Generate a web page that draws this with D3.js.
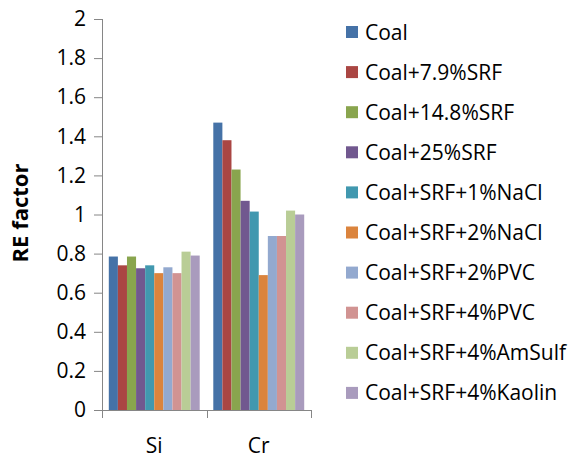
<!DOCTYPE html>
<html>
<head>
<meta charset="utf-8">
<script src="https://cdn.jsdelivr.net/npm/d3@7"></script>
<style>
  body { margin: 0; background: #fff; }
  svg { display: block; font-family: "Open Sans", sans-serif; }
</style>
</head>
<body>
<div id="chart"></div>
<script>
// data
const CATEGORIES = ["Si", "Cr"];
const SERIES = ["Coal", "Coal+7.9%SRF", "Coal+14.8%SRF", "Coal+25%SRF",
  "Coal+SRF+1%NaCl", "Coal+SRF+2%NaCl", "Coal+SRF+2%PVC", "Coal+SRF+4%PVC",
  "Coal+SRF+4%AmSulf", "Coal+SRF+4%Kaolin"];
const SI_VALUES = [0.785, 0.74, 0.785, 0.725, 0.74, 0.70, 0.73, 0.70, 0.81, 0.79];
const CR_VALUES = [1.47, 1.38, 1.23, 1.07, 1.015, 0.69, 0.89, 0.89, 1.02, 1.0];
const Y_TICKS = [0, 0.2, 0.4, 0.6, 0.8, 1, 1.2, 1.4, 1.6, 1.8, 2];
const COLORS = ["#4572A7", "#AA4643", "#89A54E", "#71588F", "#4198AF",
  "#DB843D", "#93A9CF", "#D19392", "#B9CD96", "#A99BBD"];

const WIDTH = 570, HEIGHT = 463;
const PLOT = {left: 102, right: 311, top: 19, bottom: 410};

const values = {Si: SI_VALUES, Cr: CR_VALUES};

const svg = d3.select("#chart").append("svg")
  .attr("width", WIDTH)
  .attr("height", HEIGHT);

const X_SCALE = d3.scaleBand()
  .domain(CATEGORIES)
  .range([PLOT.left, PLOT.right])
  .paddingInner(0.13)
  .paddingOuter(0.065);

const X_INNER = d3.scaleBand()
  .domain(SERIES)
  .range([0, X_SCALE.bandwidth()])
  .padding(0);

const Y_SCALE = d3.scaleLinear()
  .domain([0, 2])
  .range([PLOT.bottom, PLOT.top]);

// bars
CATEGORIES.forEach((cat) => {
  svg.append("g")
    .attr("transform", "translate(" + X_SCALE(cat) + ",0)")
    .selectAll("rect")
    .data(values[cat])
    .enter()
    .append("rect")
      .attr("x", (d, i) => X_INNER(SERIES[i]))
      .attr("y", (d) => Y_SCALE(d))
      .attr("width", X_INNER.bandwidth())
      .attr("height", (d) => PLOT.bottom - Y_SCALE(d))
      .attr("fill", (d, i) => COLORS[i]);
});

// y axis
const yAxis = svg.append("g")
  .attr("transform", "translate(" + PLOT.left + ",0)")
  .call(d3.axisLeft(Y_SCALE).tickValues(Y_TICKS).tickSize(8).tickPadding(8)
    .tickFormat(d3.format("~g")));
yAxis.select(".domain").attr("stroke", "#868686").attr("d", "M0.5," + PLOT.top + "V" + PLOT.bottom);
yAxis.selectAll(".tick line").attr("stroke", "#868686");
yAxis.selectAll("text")
  .attr("font-family", "Open Sans")
  .attr("font-size", 21)
  .attr("fill", "#000");

// x axis, ticks sit between the categories
const xAxis = svg.append("g")
  .attr("transform", "translate(0," + PLOT.bottom + ")");
xAxis.append("line")
  .attr("x1", PLOT.left).attr("x2", PLOT.right)
  .attr("y1", 0.5).attr("y2", 0.5)
  .attr("stroke", "#868686");
const edges = [PLOT.left, (X_SCALE("Si") + X_SCALE.bandwidth() + X_SCALE("Cr")) / 2, PLOT.right];
xAxis.selectAll(".xtick")
  .data(edges)
  .enter()
  .append("line")
    .attr("x1", (d) => Math.round(d) + 0.5)
    .attr("x2", (d) => Math.round(d) + 0.5)
    .attr("y1", 0).attr("y2", 8)
    .attr("stroke", "#868686");
xAxis.selectAll(".xlabel")
  .data(CATEGORIES)
  .enter()
  .append("text")
    .attr("x", (d) => X_SCALE(d) + X_SCALE.bandwidth() / 2)
    .attr("y", 43)
    .attr("text-anchor", "middle")
    .attr("font-size", 21)
    .text((d) => d);

// axis title
svg.append("text")
  .attr("transform", "translate(28,213) rotate(-90)")
  .attr("text-anchor", "middle")
  .attr("font-size", 22)
  .attr("font-weight", "bold")
  .text("RE factor");

// legend
const legend = svg.append("g")
  .attr("transform", "translate(346,32)");
const items = legend.selectAll("g")
  .data(SERIES)
  .enter()
  .append("g")
    .attr("transform", (d, i) => "translate(0," + (i * 40.1) + ")");
items.append("rect")
  .attr("x", 0).attr("y", -6)
  .attr("width", 12).attr("height", 12)
  .attr("fill", (d, i) => COLORS[i]);
items.append("text")
  .attr("x", 19)
  .attr("y", 7.5)
  .attr("font-size", 21)
  .text((d) => d);
</script>
</body>
</html>
